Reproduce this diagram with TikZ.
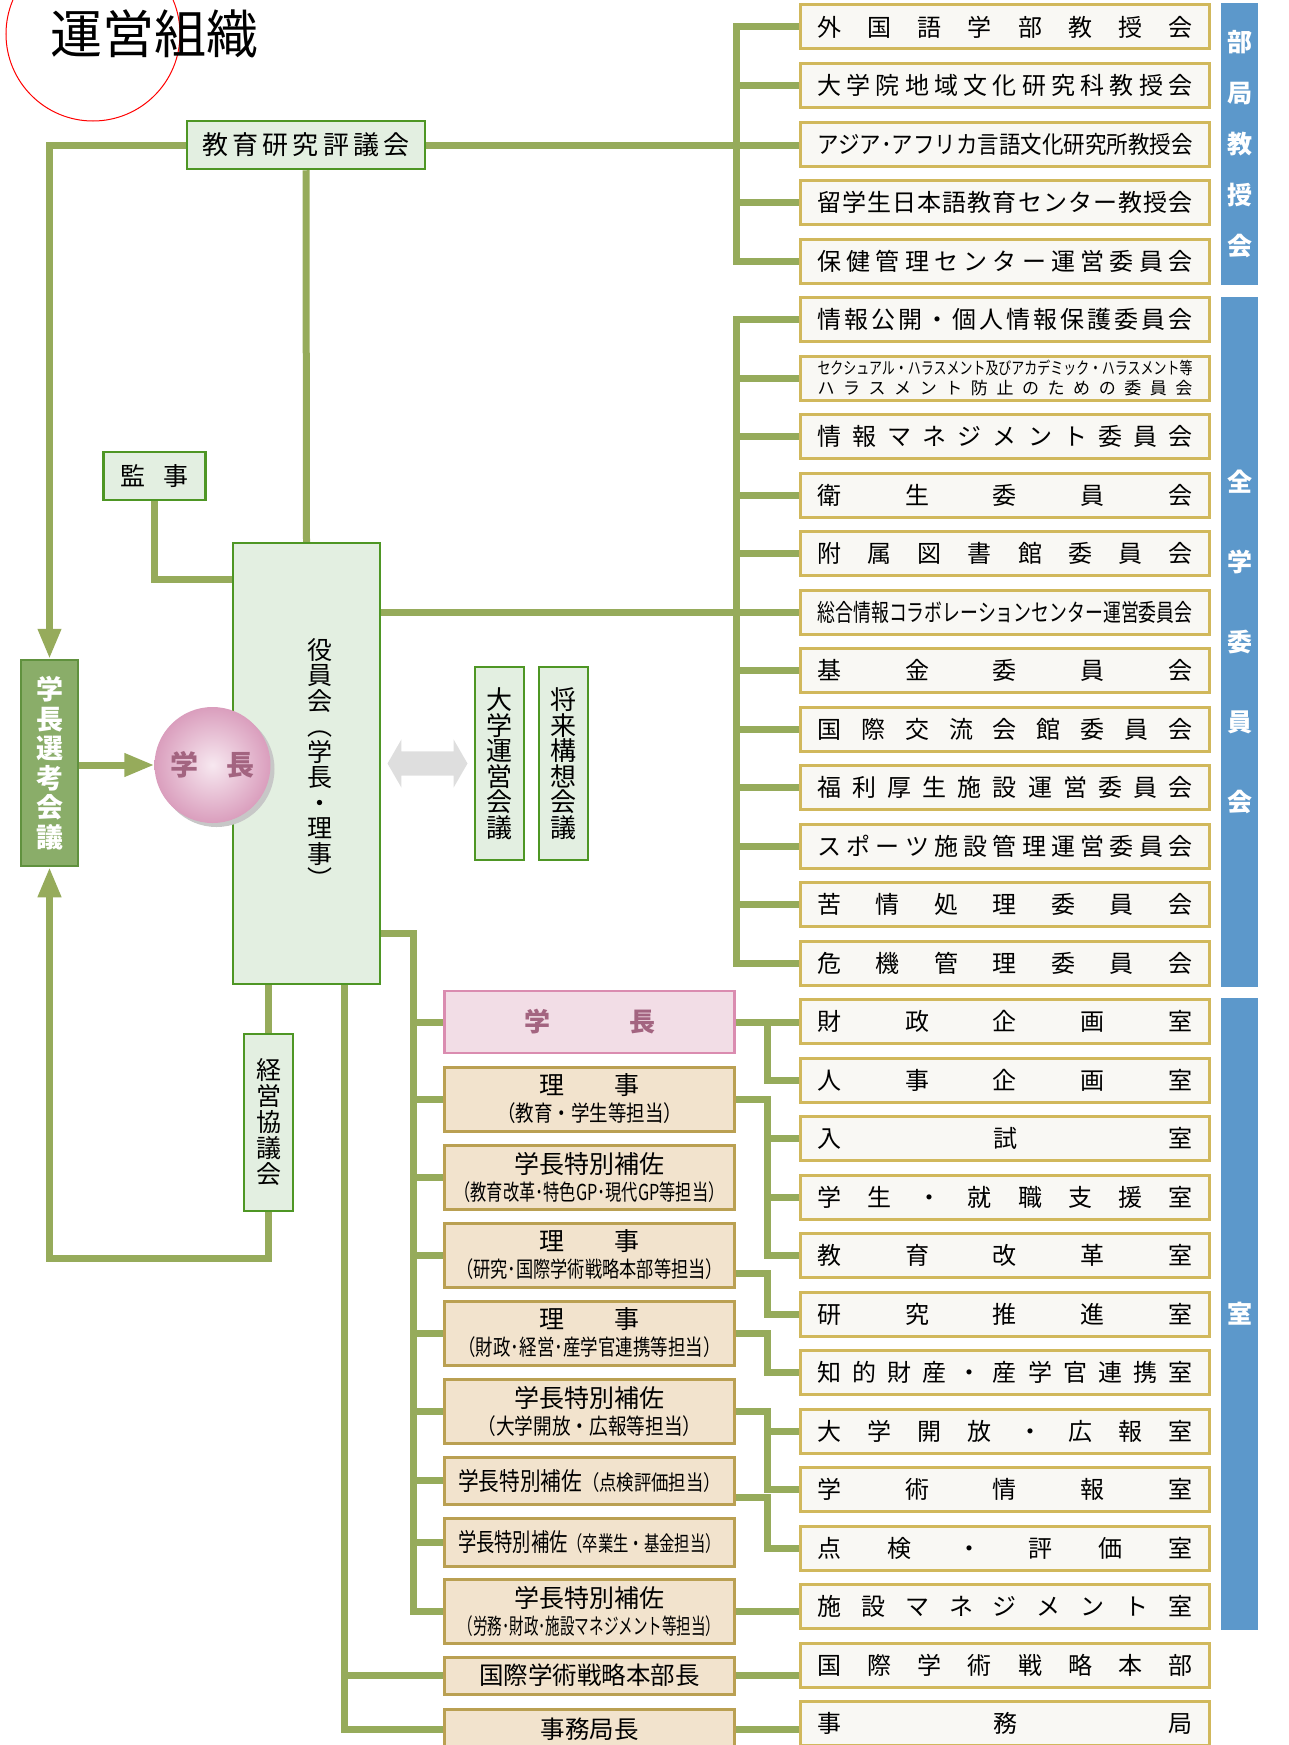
\documentclass[tikz,border=0pt]{standalone}
\usepackage{fontspec}
\setmainfont{Noto Sans CJK JP}
\usepackage{graphicx}
\usetikzlibrary{arrows.meta,shapes.arrows,shadows}

\definecolor{linegreen}{RGB}{150,171,91}
\definecolor{boxgreen}{RGB}{78,150,36}
\definecolor{palegreen}{RGB}{227,239,225}
\definecolor{senkofill}{RGB}{138,173,105}
\definecolor{senkoline}{RGB}{96,145,62}
\definecolor{tfill}{RGB}{242,227,205}
\definecolor{tline}{RGB}{186,160,82}
\definecolor{pinkfill}{RGB}{242,221,230}
\definecolor{pinkline}{RGB}{218,140,176}
\definecolor{pinktext}{RGB}{163,100,128}
\definecolor{pinkin}{RGB}{247,232,240}
\definecolor{pinkout}{RGB}{218,158,189}
\definecolor{rfill}{RGB}{249,248,244}
\definecolor{rline}{RGB}{209,184,92}
\definecolor{barblue}{RGB}{92,152,203}
\definecolor{arrowgray}{RGB}{222,222,222}

\newlength\fitlen
\def\spreadloop#1#2\endspread{#1\ifx\relax#2\relax\else\hfill\spreadloop#2\endspread\fi}
\newcommand\spread[2]{\hbox to #1{\expandafter\spreadloop#2\endspread}}
\newcommand\fit[2]{\settowidth\fitlen{#2}\ifdim\fitlen>#1\relax\resizebox{#1}{\height}{#2}\else\spread{#1}{#2}\fi}
\newcommand\squeeze[2]{\settowidth\fitlen{#2}\ifdim\fitlen>#1\relax\resizebox{#1}{\height}{#2}\else#2\fi}
\newcommand\stack[3]{\vbox{\baselineskip=#1\halign{\hfil##\hfil\cr#2\cr#3\cr}}}
\newcommand\subfont{\fontsize{21}{21}\selectfont}
\newcommand\linefont{\fontsize{22}{22}\selectfont}

\begin{document}
\begin{tikzpicture}[x=1pt,y=-1pt,
    conn/.style={draw=linegreen,line width=7pt},
    headed/.style={-{Triangle[length=30pt,width=22pt]}},
    gbox/.style={draw=boxgreen,fill=palegreen,line width=2.5pt,inner sep=0pt,align=center},
    rbox/.style={draw=rline,fill=rfill,line width=3pt,minimum width=409pt,minimum height=44pt,inner sep=0pt,font=\fontsize{24}{24}\selectfont},
    tbox/.style={draw=tline,fill=tfill,line width=3pt,minimum width=290pt,inner sep=0pt,font=\fontsize{25}{25}\selectfont},
    sidebar/.style={fill=barblue,minimum width=37pt,inner sep=0pt,align=center,text=white}]
    \useasboundingbox (0,0) rectangle (1288,1745);

    \draw[red,line width=1pt] (93,34) circle (87pt);
    \node[font=\fontsize{52}{52}\selectfont] (title) at (154,34) {運営組織};

    \node[gbox,minimum width=238pt,minimum height=48pt,font=\fontsize{26}{26}\selectfont] (hyogi) at (306,145) {\spread{207pt}{教育研究評議会}};
    \node[gbox,minimum width=102pt,minimum height=48pt,font=\fontsize{25}{25}\selectfont] (kanji) at (154.5,476) {\spread{68pt}{監事}};
    \node[gbox,minimum width=147pt,minimum height=441pt] (yakuin) at (306.5,763.5) {};
    \node[align=center,inner sep=0pt,font=\fontsize{25}{25.5}\selectfont] (yakuinlabel) at (320,763.5) {役\\員\\会\\︵\\学\\長\\・\\理\\事\\︶};
    \node[gbox,minimum width=49pt,minimum height=193pt,font=\fontsize{26}{25.5}\selectfont] (unei) at (499.5,763.5) {大\\学\\運\\営\\会\\議};
    \node[gbox,minimum width=49pt,minimum height=193pt,font=\fontsize{26}{25.5}\selectfont] (shorai) at (563.5,763.5) {将\\来\\構\\想\\会\\議};
    \node[gbox,minimum width=49pt,minimum height=177pt,font=\fontsize{25}{26}\selectfont] (keiei) at (268.5,1122.5) {経\\営\\協\\議\\会};
    \node[gbox,draw=senkoline,fill=senkofill,text=white,minimum width=57pt,minimum height=206pt,font=\fontsize{27}{29.5}\selectfont\bfseries] (senko) at (49.5,763) {学\\長\\選\\考\\会\\議};
    \node[circle,minimum size=116pt,inner sep=0pt,shade,inner color=pinkin,outer color=pinkout,
        drop shadow={shadow xshift=4pt,shadow yshift=-4pt,fill=black!22,opacity=1},
        text=pinktext,font=\fontsize{28}{28}\selectfont\bfseries] (gakucho) at (212.5,765) {学　長};
    \node[double arrow,fill=arrowgray,minimum height=80pt,minimum width=48pt,double arrow head extend=12pt,
        double arrow tip angle=120,inner sep=0pt,text height=12pt,text depth=12pt] (dblarrow) at (427.5,763.5) {};

    \node[tbox,draw=pinkline,fill=pinkfill,line width=2.5pt,minimum height=62pt,text=pinktext,font=\fontsize{26}{26}\selectfont\bfseries] (t1) at (589.5,1022) {\spread{131pt}{学長}};
    \node[tbox,minimum height=64pt] (t2) at (589.5,1099) {\stack{27pt}{\spread{101pt}{理事}}{\linefont\squeeze{185pt}{（教育・学生等担当）}}};
    \node[tbox,minimum height=64pt] (t3) at (589.5,1177) {\stack{27pt}{学長特別補佐}{\linefont\squeeze{270pt}{（教育改革･特色GP･現代GP等担当）}}};
    \node[tbox,minimum height=64pt] (t4) at (589.5,1255) {\stack{27pt}{\spread{101pt}{理事}}{\linefont\squeeze{267pt}{（研究･国際学術戦略本部等担当）}}};
    \node[tbox,minimum height=64pt] (t5) at (589.5,1333) {\stack{27pt}{\spread{101pt}{理事}}{\linefont\squeeze{262pt}{（財政･経営･産学官連携等担当）}}};
    \node[tbox,minimum height=64pt] (t6) at (589.5,1411) {\stack{27pt}{学長特別補佐}{\linefont\squeeze{224pt}{（大学開放・広報等担当）}}};
    \node[tbox,minimum height=47pt] (t7) at (589.5,1480.5) {\squeeze{263pt}{学長特別補佐{\subfont（点検評価担当）}}};
    \node[tbox,minimum height=48pt] (t8) at (589.5,1542) {\squeeze{263pt}{学長特別補佐{\subfont（卒業生・基金担当）}}};
    \node[tbox,minimum height=64pt] (t9) at (589.5,1611) {\stack{27pt}{学長特別補佐}{\linefont\squeeze{262pt}{（労務･財政･施設マネジメント等担当）}}};
    \node[tbox,minimum height=37pt,font=\fontsize{24.5}{24.5}\selectfont] (t10) at (589.5,1675.5) {国際学術戦略本部長};
    \node[tbox,minimum height=40pt,font=\fontsize{24.5}{24.5}\selectfont] (t11) at (589.5,1729) {事務局長};

    \node[rbox] (r0) at (1005,27) {\fit{375pt}{外国語学部教授会}};
    \node[rbox] (r1) at (1005,85.5) {\fit{375pt}{大学院地域文化研究科教授会}};
    \node[rbox] (r2) at (1005,144) {\fit{375pt}{アジア･アフリカ言語文化研究所教授会}};
    \node[rbox] (r3) at (1005,202.5) {\fit{375pt}{留学生日本語教育センター教授会}};
    \node[rbox] (r4) at (1005,261) {\fit{375pt}{保健管理センター運営委員会}};
    \node[rbox] (r5) at (1005,319.5) {\fit{375pt}{情報公開・個人情報保護委員会}};
    \node[rbox,font=\fontsize{17}{17}\selectfont] (r6) at (1005,378) {\stack{20pt}{\squeeze{375pt}{セクシュアル・ハラスメント及びアカデミック・ハラスメント等}}{\spread{375pt}{ハラスメント防止のための委員会}}};
    \node[rbox] (r7) at (1005,436.5) {\fit{375pt}{情報マネジメント委員会}};
    \node[rbox] (r8) at (1005,495) {\fit{375pt}{衛生委員会}};
    \node[rbox] (r9) at (1005,553.5) {\fit{375pt}{附属図書館委員会}};
    \node[rbox] (r10) at (1005,612) {\fit{375pt}{総合情報コラボレーションセンター運営委員会}};
    \node[rbox] (r11) at (1005,670.5) {\fit{375pt}{基金委員会}};
    \node[rbox] (r12) at (1005,729) {\fit{375pt}{国際交流会館委員会}};
    \node[rbox] (r13) at (1005,787.5) {\fit{375pt}{福利厚生施設運営委員会}};
    \node[rbox] (r14) at (1005,846) {\fit{375pt}{スポーツ施設管理運営委員会}};
    \node[rbox] (r15) at (1005,904.5) {\fit{375pt}{苦情処理委員会}};
    \node[rbox] (r16) at (1005,963) {\fit{375pt}{危機管理委員会}};
    \node[rbox] (r17) at (1005,1021.5) {\fit{375pt}{財政企画室}};
    \node[rbox] (r18) at (1005,1080) {\fit{375pt}{人事企画室}};
    \node[rbox] (r19) at (1005,1138.5) {\fit{375pt}{入試室}};
    \node[rbox] (r20) at (1005,1197) {\fit{375pt}{学生・就職支援室}};
    \node[rbox] (r21) at (1005,1255.5) {\fit{375pt}{教育改革室}};
    \node[rbox] (r22) at (1005,1314) {\fit{375pt}{研究推進室}};
    \node[rbox] (r23) at (1005,1372.5) {\fit{375pt}{知的財産・産学官連携室}};
    \node[rbox] (r24) at (1005,1431) {\fit{375pt}{大学開放・広報室}};
    \node[rbox] (r25) at (1005,1489.5) {\fit{375pt}{学術情報室}};
    \node[rbox] (r26) at (1005,1548) {\fit{375pt}{点検・評価室}};
    \node[rbox] (r27) at (1005,1606.5) {\fit{375pt}{施設マネジメント室}};
    \node[rbox] (r28) at (1005,1665) {\fit{375pt}{国際学術戦略本部}};
    \node[rbox] (r29) at (1005,1723.5) {\fit{375pt}{事務局}};

    \node[sidebar,minimum height=281pt,font=\fontsize{25}{51}\selectfont\bfseries] (bukyoku) at (1239.5,144) {部\\局\\教\\授\\会};
    \node[sidebar,minimum height=690pt,font=\fontsize{25}{80}\selectfont\bfseries] (zengaku) at (1239.5,641.5) {全\\学\\委\\員\\会};
    \node[sidebar,minimum height=632pt,font=\fontsize{25}{25}\selectfont\bfseries] (shitsu) at (1239.5,1314) {室};

    \coordinate (kbus) at (736,0);
    \coordinate (mbus) at (413,933);
    \coordinate (dbus) at (344,985);
    \coordinate (sbus) at (767,0);
    \coordinate (kbottom) at (268.5,1258);

    \draw[conn,headed] (hyogi.west) -| (senko.north);
    \draw[conn] (hyogi.south) -- (yakuin.north);
    \draw[conn] (kanji.south) |- (yakuin.west |- 0,579);
    \draw[conn,headed] (senko.east |- gakucho) -- (gakucho.west);
    \draw[conn] (keiei.north) -- (keiei.north |- yakuin.south);
    \draw[conn,headed] (keiei.south) -- (kbottom) -| (senko.south);

    \draw[conn] (hyogi.east) -- (hyogi.east -| r2.west);
    \draw[conn] (r0.west) -- (kbus |- r0) -- (kbus |- r4) -- (r4.west);
    \draw[conn] (kbus |- r1) -- (r1.west) (kbus |- r3) -- (r3.west);
    \draw[conn] (yakuin.east |- r10) -- (r10.west);
    \draw[conn] (r5.west) -- (kbus |- r5) -- (kbus |- r16) -- (r16.west);
    \draw[conn] (kbus |- r6) -- (r6.west) (kbus |- r7) -- (r7.west) (kbus |- r8) -- (r8.west)
        (kbus |- r9) -- (r9.west) (kbus |- r11) -- (r11.west) (kbus |- r12) -- (r12.west)
        (kbus |- r13) -- (r13.west) (kbus |- r14) -- (r14.west) (kbus |- r15) -- (r15.west);

    \draw[conn] (yakuin.east |- mbus) -- (mbus) -- (mbus |- t9) -- (t9.west);
    \draw[conn] (mbus |- t1) -- (t1.west) (mbus |- t2) -- (t2.west) (mbus |- t3) -- (t3.west)
        (mbus |- t4) -- (t4.west) (mbus |- t5) -- (t5.west) (mbus |- t6) -- (t6.west)
        (mbus |- t7) -- (t7.west) (mbus |- t8) -- (t8.west);
    \draw[conn] (dbus) -- (dbus |- t11) -- (t11.west);
    \draw[conn] (dbus |- t10) -- (t10.west);

    \draw[conn] (t1.east) -- (t1.east -| r17.west);
    \draw[conn] (sbus |- t1) -- (sbus |- r18) -- (r18.west);
    \draw[conn] (t2.east) -| (sbus |- r21) -- (r21.west);
    \draw[conn] (sbus |- r19) -- (r19.west) (sbus |- r20) -- (r20.west);
    \draw[conn] (t4.east |- 0,1273) -| (sbus |- r22) -- (r22.west);
    \draw[conn] (t5.east) -| (sbus |- r23) -- (r23.west);
    \draw[conn] (t6.east) -| (sbus |- r25) -- (r25.west);
    \draw[conn] (sbus |- r24) -- (r24.west);
    \draw[conn] (t7.east |- 0,1497) -| (sbus |- r26) -- (r26.west);
    \draw[conn] (t9.east) -- (t9.east -| r27.west);
    \draw[conn] (t10.east) -- (t10.east -| r28.west);
    \draw[conn] (t11.east) -- (t11.east -| r29.west);
\end{tikzpicture}
\end{document}
